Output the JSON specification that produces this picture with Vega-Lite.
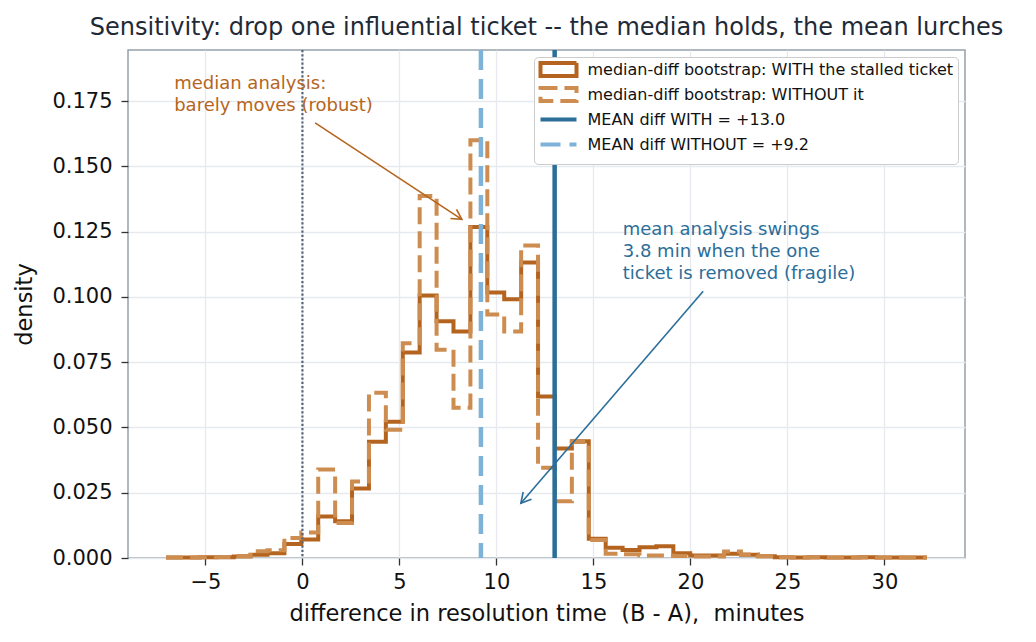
{
  "$schema": "https://vega.github.io/schema/vega-lite/v6.json",
  "width": 837,
  "height": 508,
  "autosize": {"type": "none"},
  "padding": {"left": 128, "top": 50, "right": 71, "bottom": 84},
  "background": "white",
  "title": {
    "text": "Sensitivity: drop one influential ticket -- the median holds, the mean lurches",
    "fontSize": 24,
    "fontWeight": "normal",
    "color": "#1f2a36",
    "anchor": "middle",
    "frame": "group",
    "offset": 8
  },
  "config": {
    "font": "DejaVu Sans",
    "view": {"stroke": "#96a1ab", "strokeWidth": 1.5},
    "axis": {
      "domain": false,
      "grid": true,
      "gridColor": "#e6e9ed",
      "gridWidth": 1.3,
      "tickColor": "#333333",
      "tickSize": 7,
      "tickWidth": 1.3,
      "labelFontSize": 21,
      "labelColor": "#111111",
      "titleFontSize": 22.5,
      "titleFontWeight": "normal",
      "titleColor": "#111111",
      "labelPadding": 6
    },
    "legend": {
      "orient": "top-right",
      "offset": 7,
      "title": null,
      "labelFontSize": 16,
      "labelColor": "#111111",
      "labelLimit": 0,
      "fillColor": "white",
      "strokeColor": "#cccccc",
      "cornerRadius": 4,
      "padding": 4.5,
      "symbolSize": 144,
      "symbolStrokeWidth": 4,
      "symbolType": "M-1,-1.07L-1,-1.07M-1,1.07L-1,1.07M-1,0H5",
      "labelOffset": 33,
      "rowPadding": -5
    }
  },
  "datasets": {
    "hist": [
      {"series": "median-diff bootstrap: WITH the stalled ticket", "x": -7.03, "density": 0.0002},
      {"series": "median-diff bootstrap: WITH the stalled ticket", "x": -6.158, "density": 0.0002},
      {"series": "median-diff bootstrap: WITH the stalled ticket", "x": -5.287, "density": 0.0003},
      {"series": "median-diff bootstrap: WITH the stalled ticket", "x": -4.415, "density": 0.0003},
      {"series": "median-diff bootstrap: WITH the stalled ticket", "x": -3.544, "density": 0.0006},
      {"series": "median-diff bootstrap: WITH the stalled ticket", "x": -2.672, "density": 0.0012},
      {"series": "median-diff bootstrap: WITH the stalled ticket", "x": -1.801, "density": 0.0018},
      {"series": "median-diff bootstrap: WITH the stalled ticket", "x": -0.929, "density": 0.0054},
      {"series": "median-diff bootstrap: WITH the stalled ticket", "x": -0.057, "density": 0.0071},
      {"series": "median-diff bootstrap: WITH the stalled ticket", "x": 0.814, "density": 0.0159},
      {"series": "median-diff bootstrap: WITH the stalled ticket", "x": 1.686, "density": 0.0141},
      {"series": "median-diff bootstrap: WITH the stalled ticket", "x": 2.557, "density": 0.0266},
      {"series": "median-diff bootstrap: WITH the stalled ticket", "x": 3.429, "density": 0.0445},
      {"series": "median-diff bootstrap: WITH the stalled ticket", "x": 4.3, "density": 0.0522},
      {"series": "median-diff bootstrap: WITH the stalled ticket", "x": 5.172, "density": 0.0787},
      {"series": "median-diff bootstrap: WITH the stalled ticket", "x": 6.043, "density": 0.1006},
      {"series": "median-diff bootstrap: WITH the stalled ticket", "x": 6.915, "density": 0.0907},
      {"series": "median-diff bootstrap: WITH the stalled ticket", "x": 7.786, "density": 0.0868},
      {"series": "median-diff bootstrap: WITH the stalled ticket", "x": 8.658, "density": 0.1268},
      {"series": "median-diff bootstrap: WITH the stalled ticket", "x": 9.53, "density": 0.1017},
      {"series": "median-diff bootstrap: WITH the stalled ticket", "x": 10.401, "density": 0.0991},
      {"series": "median-diff bootstrap: WITH the stalled ticket", "x": 11.273, "density": 0.1132},
      {"series": "median-diff bootstrap: WITH the stalled ticket", "x": 12.144, "density": 0.0619},
      {"series": "median-diff bootstrap: WITH the stalled ticket", "x": 13.016, "density": 0.0419},
      {"series": "median-diff bootstrap: WITH the stalled ticket", "x": 13.887, "density": 0.0447},
      {"series": "median-diff bootstrap: WITH the stalled ticket", "x": 14.759, "density": 0.0074},
      {"series": "median-diff bootstrap: WITH the stalled ticket", "x": 15.63, "density": 0.0039},
      {"series": "median-diff bootstrap: WITH the stalled ticket", "x": 16.502, "density": 0.0031},
      {"series": "median-diff bootstrap: WITH the stalled ticket", "x": 17.374, "density": 0.0041},
      {"series": "median-diff bootstrap: WITH the stalled ticket", "x": 18.245, "density": 0.0045},
      {"series": "median-diff bootstrap: WITH the stalled ticket", "x": 19.117, "density": 0.0018},
      {"series": "median-diff bootstrap: WITH the stalled ticket", "x": 19.988, "density": 0.001},
      {"series": "median-diff bootstrap: WITH the stalled ticket", "x": 20.86, "density": 0.001},
      {"series": "median-diff bootstrap: WITH the stalled ticket", "x": 21.731, "density": 0.0016},
      {"series": "median-diff bootstrap: WITH the stalled ticket", "x": 22.603, "density": 0.0012},
      {"series": "median-diff bootstrap: WITH the stalled ticket", "x": 23.474, "density": 0.0007},
      {"series": "median-diff bootstrap: WITH the stalled ticket", "x": 24.346, "density": 0.0003},
      {"series": "median-diff bootstrap: WITH the stalled ticket", "x": 25.218, "density": 0.0002},
      {"series": "median-diff bootstrap: WITH the stalled ticket", "x": 26.089, "density": 0.0003},
      {"series": "median-diff bootstrap: WITH the stalled ticket", "x": 26.961, "density": 0.0002},
      {"series": "median-diff bootstrap: WITH the stalled ticket", "x": 27.832, "density": 0.0002},
      {"series": "median-diff bootstrap: WITH the stalled ticket", "x": 28.704, "density": 0.0003},
      {"series": "median-diff bootstrap: WITH the stalled ticket", "x": 29.575, "density": 0.0002},
      {"series": "median-diff bootstrap: WITH the stalled ticket", "x": 30.447, "density": 0.0002},
      {"series": "median-diff bootstrap: WITH the stalled ticket", "x": 31.318, "density": 0.0002},
      {"series": "median-diff bootstrap: WITH the stalled ticket", "x": 32.19, "density": 0.0002},
      {"series": "median-diff bootstrap: WITHOUT it", "x": -7.03, "density": 0.0002},
      {"series": "median-diff bootstrap: WITHOUT it", "x": -6.158, "density": 0.0002},
      {"series": "median-diff bootstrap: WITHOUT it", "x": -5.287, "density": 0.0003},
      {"series": "median-diff bootstrap: WITHOUT it", "x": -4.415, "density": 0.0004},
      {"series": "median-diff bootstrap: WITHOUT it", "x": -3.544, "density": 0.0008},
      {"series": "median-diff bootstrap: WITHOUT it", "x": -2.672, "density": 0.0026},
      {"series": "median-diff bootstrap: WITHOUT it", "x": -1.801, "density": 0.003},
      {"series": "median-diff bootstrap: WITHOUT it", "x": -0.929, "density": 0.0077},
      {"series": "median-diff bootstrap: WITHOUT it", "x": -0.057, "density": 0.0098},
      {"series": "median-diff bootstrap: WITHOUT it", "x": 0.814, "density": 0.0339},
      {"series": "median-diff bootstrap: WITHOUT it", "x": 1.686, "density": 0.0134},
      {"series": "median-diff bootstrap: WITHOUT it", "x": 2.557, "density": 0.0293},
      {"series": "median-diff bootstrap: WITHOUT it", "x": 3.429, "density": 0.0633},
      {"series": "median-diff bootstrap: WITHOUT it", "x": 4.3, "density": 0.0491},
      {"series": "median-diff bootstrap: WITHOUT it", "x": 5.172, "density": 0.0823},
      {"series": "median-diff bootstrap: WITHOUT it", "x": 6.043, "density": 0.1387},
      {"series": "median-diff bootstrap: WITHOUT it", "x": 6.915, "density": 0.0798},
      {"series": "median-diff bootstrap: WITHOUT it", "x": 7.786, "density": 0.0576},
      {"series": "median-diff bootstrap: WITHOUT it", "x": 8.658, "density": 0.16},
      {"series": "median-diff bootstrap: WITHOUT it", "x": 9.53, "density": 0.0933},
      {"series": "median-diff bootstrap: WITHOUT it", "x": 10.401, "density": 0.0868},
      {"series": "median-diff bootstrap: WITHOUT it", "x": 11.273, "density": 0.1197},
      {"series": "median-diff bootstrap: WITHOUT it", "x": 12.144, "density": 0.0346},
      {"series": "median-diff bootstrap: WITHOUT it", "x": 13.016, "density": 0.0217},
      {"series": "median-diff bootstrap: WITHOUT it", "x": 13.887, "density": 0.0444},
      {"series": "median-diff bootstrap: WITHOUT it", "x": 14.759, "density": 0.0069},
      {"series": "median-diff bootstrap: WITHOUT it", "x": 15.63, "density": 0.0016},
      {"series": "median-diff bootstrap: WITHOUT it", "x": 16.502, "density": 0.0014},
      {"series": "median-diff bootstrap: WITHOUT it", "x": 17.374, "density": 0.001},
      {"series": "median-diff bootstrap: WITHOUT it", "x": 18.245, "density": 0.001},
      {"series": "median-diff bootstrap: WITHOUT it", "x": 19.117, "density": 0.0008},
      {"series": "median-diff bootstrap: WITHOUT it", "x": 19.988, "density": 0.0006},
      {"series": "median-diff bootstrap: WITHOUT it", "x": 20.86, "density": 0.0006},
      {"series": "median-diff bootstrap: WITHOUT it", "x": 21.731, "density": 0.0025},
      {"series": "median-diff bootstrap: WITHOUT it", "x": 22.603, "density": 0.0013},
      {"series": "median-diff bootstrap: WITHOUT it", "x": 23.474, "density": 0.0007},
      {"series": "median-diff bootstrap: WITHOUT it", "x": 24.346, "density": 0.0003},
      {"series": "median-diff bootstrap: WITHOUT it", "x": 25.218, "density": 0.0002},
      {"series": "median-diff bootstrap: WITHOUT it", "x": 26.089, "density": 0.0002},
      {"series": "median-diff bootstrap: WITHOUT it", "x": 26.961, "density": 0.0002},
      {"series": "median-diff bootstrap: WITHOUT it", "x": 27.832, "density": 0.0002},
      {"series": "median-diff bootstrap: WITHOUT it", "x": 28.704, "density": 0.0002},
      {"series": "median-diff bootstrap: WITHOUT it", "x": 29.575, "density": 0.0002},
      {"series": "median-diff bootstrap: WITHOUT it", "x": 30.447, "density": 0.0002},
      {"series": "median-diff bootstrap: WITHOUT it", "x": 31.318, "density": 0.0002},
      {"series": "median-diff bootstrap: WITHOUT it", "x": 32.19, "density": 0.0002}
    ],
    "means": [
      {"series": "MEAN diff WITH = +13.0", "x": 13.0},
      {"series": "MEAN diff WITHOUT = +9.2", "x": 9.2}
    ]
  },
  "encoding": {
    "x": {
      "field": "x",
      "type": "quantitative",
      "scale": {"domain": [-8.99, 34.15], "nice": false, "zero": false},
      "axis": {"values": [-5, 0, 5, 10, 15, 20, 25, 30], "title": "difference in resolution time\u00a0 (B - A),\u00a0 minutes", "titlePadding": 10}
    }
  },
  "layer": [
    {
      "data": {"name": "hist"},
      "mark": {"type": "line", "interpolate": "step-after", "strokeWidth": 4},
      "encoding": {
        "y": {
          "field": "density",
          "type": "quantitative",
          "scale": {"domain": [0, 0.1946], "nice": false},
          "axis": {"values": [0, 0.025, 0.05, 0.075, 0.1, 0.125, 0.15, 0.175], "format": ".3f", "title": "density", "titlePadding": 15, "labelPadding": 9}
        },
        "color": {
          "field": "series",
          "type": "nominal",
          "scale": {
            "domain": ["median-diff bootstrap: WITH the stalled ticket", "median-diff bootstrap: WITHOUT it", "MEAN diff WITH = +13.0", "MEAN diff WITHOUT = +9.2"],
            "range": ["#b4641e", "#cd8c50", "#2b6e99", "#7fb2d8"]
          },
          "legend": {
            "encode": {
              "symbols": {
                "update": {
                  "shape": {"signal": "datum.index < 2 ? 'M-1,-1.07H5V1.07H-1Z' : 'M-1,-1.07L-1,-1.07M-1,1.07L-1,1.07M-1,0H5'"}
                }
              }
            }
          }
        },
        "strokeDash": {
          "field": "series",
          "type": "nominal",
          "scale": {
            "domain": ["median-diff bootstrap: WITH the stalled ticket", "median-diff bootstrap: WITHOUT it", "MEAN diff WITH = +13.0", "MEAN diff WITHOUT = +9.2"],
            "range": [[1, 0], [17, 7], [1, 0], [20, 9]]
          }
        }
      }
    },
    {
      "data": {"name": "means"},
      "mark": {"type": "rule", "strokeWidth": 4.5},
      "encoding": {
        "color": {"field": "series", "type": "nominal"},
        "strokeDash": {"field": "series", "type": "nominal"}
      }
    },
    {
      "data": {"values": [{"x": 0}]},
      "mark": {"type": "rule", "color": "#56677a", "strokeWidth": 2.2, "strokeDash": [2.2, 2]},
      "encoding": {}
    },
    {
      "data": {"values": [{"x": -6.61, "y": 0.1796, "text": "median analysis:\nbarely moves (robust)"}]},
      "mark": {"type": "text", "align": "left", "baseline": "alphabetic", "fontSize": 18, "lineHeight": 21.6, "lineBreak": "\n", "color": "#b5651d"},
      "encoding": {"y": {"field": "y", "type": "quantitative"}, "text": {"field": "text"}}
    },
    {
      "data": {"values": [{"x": 0.655, "y": 0.1667, "x2": 8.216, "y2": 0.1297}]},
      "mark": {"type": "rule", "color": "#b5651d", "strokeWidth": 1.6},
      "encoding": {"y": {"field": "y", "type": "quantitative"}, "x2": {"field": "x2"}, "y2": {"field": "y2"}}
    },
    {
      "data": {"values": [{"x": 8.216, "y": 0.1297}]},
      "mark": {"type": "point", "shape": "M-0.55,1L0,0L0.55,1", "angle": 123.4, "size": 400, "filled": false, "stroke": "#b5651d", "strokeWidth": 1.6, "opacity": 1},
      "encoding": {"y": {"field": "y", "type": "quantitative"}}
    },
    {
      "data": {"values": [{"x": 16.51, "y": 0.1236, "text": "mean analysis swings\n3.8 min when the one\nticket is removed (fragile)"}]},
      "mark": {"type": "text", "align": "left", "baseline": "alphabetic", "fontSize": 18, "lineHeight": 21.6, "lineBreak": "\n", "color": "#2b6e99"},
      "encoding": {"y": {"field": "y", "type": "quantitative"}, "text": {"field": "text"}}
    },
    {
      "data": {"values": [{"x": 20.655, "y": 0.1022, "x2": 11.258, "y2": 0.021}]},
      "mark": {"type": "rule", "color": "#2b6e99", "strokeWidth": 1.6},
      "encoding": {"y": {"field": "y", "type": "quantitative"}, "x2": {"field": "x2"}, "y2": {"field": "y2"}}
    },
    {
      "data": {"values": [{"x": 11.258, "y": 0.021}]},
      "mark": {"type": "point", "shape": "M-0.55,1L0,0L0.55,1", "angle": 220.7, "size": 400, "filled": false, "stroke": "#2b6e99", "strokeWidth": 1.6, "opacity": 1},
      "encoding": {"y": {"field": "y", "type": "quantitative"}}
    }
  ]
}
